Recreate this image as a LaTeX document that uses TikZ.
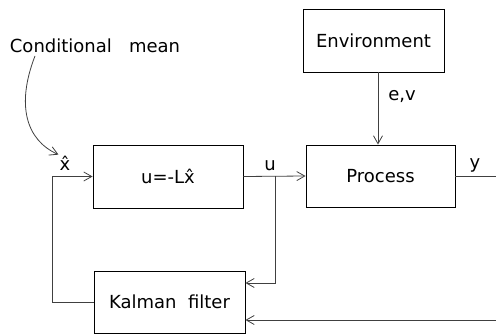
\documentclass[tikz,border=0pt]{standalone}
\usepackage{fontspec}
\setmainfont{DejaVu Sans}
\usetikzlibrary{arrows.meta}
\begin{document}
\begin{tikzpicture}[x=1pt,y=-1pt,
  blk/.style={draw=black, line width=0.9pt, minimum width=#1, inner sep=0pt},
  conn/.style={draw=black!75, line width=0.8pt},
  arr/.style={conn, -{Straight Barb[length=8pt,width=9pt]}},
  lbl/.style={inner sep=1pt},
  every node/.style={font=\fontsize{18}{21}\selectfont}]
\useasboundingbox (0,0) rectangle (496,334);
% blocks
\node[blk=141pt, minimum height=63pt] (env) at (373.5,40.5) {Environment};
\node[blk=150pt, minimum height=63pt] (ctrl) at (168,176.5) {u=-L\^{x}};
\node[blk=149pt, minimum height=62pt] (proc) at (380.5,176) {Process};
\node[blk=151pt, minimum height=62pt] (kf) at (169.5,302) {Kalman\ \ filter};
% labels
\node[lbl] (cm) at (95,46) {Conditional\ \ \ mean};
\node[lbl] (xh) at (65,163) {\^{x}};
\node[lbl] (ul) at (270,166) {u};
\node[lbl] (yl) at (475,165) {y};
\node[lbl] (evl) at (402,97) {e,v};
% coordinates
\coordinate (ev) at (378,0);
\coordinate (br) at (275,176.5);
\coordinate (yo) at (496,176);
\coordinate (fb) at (496,320);
\coordinate (lx) at (52,0);
% connectors
\draw[arr] (35,56) .. controls (16,105) and (26,140) .. (xh.north west);
\draw[arr] (env.south -| ev) -- (proc.north -| ev);
\draw[arr] (ctrl.east) -- (proc.west);
\draw[conn] (proc.east) -- (yo);
\draw[arr] (br) |- ([yshift=19pt]kf.east);
\draw[arr] (fb) -- (kf.east |- fb);
\draw[arr] (kf.west) -- (kf.west -| lx) |- (ctrl.west);
\end{tikzpicture}
\end{document}
